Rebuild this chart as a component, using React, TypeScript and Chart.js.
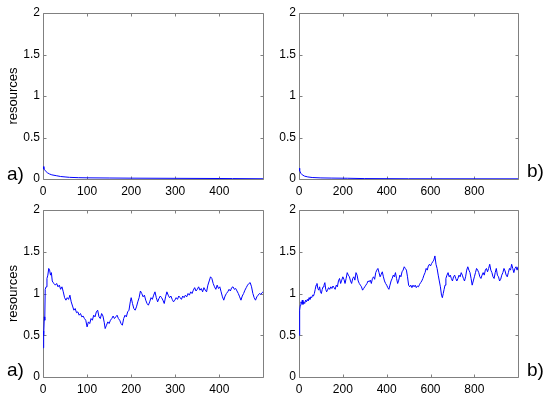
import { useEffect, useRef } from 'react';
import { Chart, registerables } from 'chart.js';

Chart.register(...registerables);

// ---------- data ----------
const yTicks = [0, 0.5, 1, 1.5, 2];
const yTickLabels = ['0', '0.5', '1', '1.5', '2'];
const xTicksA = [0, 100, 200, 300, 400];
const xTicksB = [0, 200, 400, 600, 800];
const xMaxA = 499;
const xMaxB = 999;

// top-left (a): decay
const tlX = [0, 2, 5, 10, 15, 20, 30, 40, 50, 60, 80, 100, 150, 200, 300, 400, 430, 499];
const tlY = [0.15, 0.12, 0.1, 0.075, 0.06, 0.05, 0.04, 0.03, 0.025, 0.02, 0.016, 0.014, 0.012, 0.01, 0.008, 0.006, 0.005, 0.003];

// top-right (b): decay
const trX = [0, 3, 8, 15, 25, 40, 60, 100, 150, 220, 300, 500, 999];
const trY = [0.13, 0.1, 0.07, 0.05, 0.035, 0.025, 0.018, 0.013, 0.011, 0.009, 0.005, 0.003, 0.002];

// bottom-left (a)
const blX = [0, 1, 2, 3, 4, 5, 7, 9, 11, 13, 15, 17, 19, 21, 23, 25, 28, 31, 34, 37, 40, 43, 46, 49, 52, 55, 58, 61, 64, 67, 70, 73, 76, 79, 82, 85, 88, 91, 94, 97, 100, 103, 106, 109, 112, 115, 118, 121, 124, 127, 130, 133, 136, 139, 141, 144, 147, 150, 153, 156, 159, 162, 165, 168, 171, 174, 177, 180, 183, 186, 189, 192, 195, 198, 200, 203, 206, 209, 212, 215, 218, 221, 224, 227, 230, 233, 236, 239, 242, 245, 248, 251, 254, 257, 260, 263, 266, 269, 272, 275, 278, 281, 284, 287, 290, 293, 296, 299, 302, 305, 308, 311, 314, 317, 320, 323, 326, 329, 332, 335, 338, 341, 344, 347, 350, 353, 356, 359, 362, 365, 368, 371, 374, 377, 380, 383, 386, 389, 392, 395, 398, 401, 404, 407, 410, 413, 416, 419, 422, 425, 428, 431, 434, 437, 440, 443, 446, 449, 452, 455, 458, 461, 464, 467, 470, 473, 476, 479, 482, 485, 488, 491, 494, 497, 499];
const blY = [0.35, 0.55, 0.5, 0.72, 0.68, 1.05, 1.08, 1.18, 1.22, 1.3, 1.28, 1.22, 1.25, 1.15, 1.13, 1.12, 1.1, 1.12, 1.08, 1.1, 1.05, 1.08, 1.02, 0.95, 0.92, 0.95, 0.93, 0.98, 0.9, 0.85, 0.8, 0.82, 0.77, 0.78, 0.74, 0.76, 0.72, 0.73, 0.7, 0.68, 0.6, 0.66, 0.64, 0.7, 0.68, 0.74, 0.72, 0.78, 0.8, 0.72, 0.7, 0.76, 0.73, 0.65, 0.58, 0.62, 0.66, 0.64, 0.68, 0.7, 0.73, 0.7, 0.72, 0.74, 0.7, 0.68, 0.64, 0.62, 0.7, 0.74, 0.72, 0.78, 0.8, 0.9, 0.95, 0.88, 0.82, 0.8, 0.84, 0.9, 0.95, 1.03, 1.0, 0.96, 0.98, 0.92, 0.88, 0.86, 0.9, 0.95, 0.93, 0.98, 1.02, 0.95, 0.9, 0.94, 0.97, 0.95, 0.92, 0.88, 0.96, 1.02, 0.98, 0.95, 0.97, 0.93, 0.9, 0.92, 0.95, 0.93, 0.97, 0.95, 0.93, 0.97, 0.95, 0.98, 0.96, 1.0, 0.98, 1.02, 1.0, 1.04, 1.07, 1.03, 1.05, 1.08, 1.04, 1.06, 1.02, 1.07, 1.04, 1.02, 1.1, 1.15, 1.2, 1.18, 1.12, 1.08, 1.05, 1.1, 1.06, 1.08, 1.02, 0.96, 0.92, 0.97, 1.0, 1.02, 1.05, 1.03, 1.07, 1.08, 1.05, 1.06, 1.03, 1.0, 0.96, 0.92, 0.97, 1.0, 1.04, 1.07, 1.1, 1.12, 1.13, 1.08, 1.0, 0.95, 0.92, 0.96, 0.98, 1.0, 0.99, 1.01, 1.02];

// bottom-right (b)
const brX = [0, 2, 4, 6, 9, 12, 15, 18, 22, 26, 30, 34, 38, 42, 46, 50, 54, 58, 62, 66, 70, 74, 78, 82, 86, 90, 94, 98, 102, 106, 110, 114, 118, 122, 126, 130, 135, 140, 145, 150, 155, 160, 165, 170, 175, 180, 185, 190, 195, 200, 205, 210, 215, 220, 225, 230, 235, 240, 245, 250, 255, 260, 265, 270, 275, 280, 285, 290, 295, 300, 305, 310, 315, 320, 325, 330, 335, 340, 345, 350, 355, 360, 365, 370, 375, 380, 385, 390, 395, 400, 405, 410, 415, 420, 425, 430, 435, 440, 445, 450, 455, 460, 465, 470, 475, 480, 485, 490, 495, 500, 505, 510, 515, 520, 525, 530, 535, 540, 545, 550, 555, 560, 565, 570, 575, 580, 585, 590, 595, 600, 605, 610, 615, 620, 625, 630, 635, 640, 645, 650, 654, 658, 662, 666, 670, 675, 680, 685, 690, 695, 700, 705, 710, 715, 720, 725, 730, 735, 740, 745, 750, 755, 760, 765, 770, 775, 780, 785, 790, 795, 800, 805, 810, 815, 820, 825, 830, 835, 840, 845, 850, 855, 860, 865, 870, 875, 880, 885, 890, 895, 900, 905, 910, 915, 920, 925, 930, 935, 940, 945, 950, 955, 960, 965, 970, 975, 980, 985, 990, 995, 999];
const brY = [0.5, 0.72, 0.8, 0.86, 0.9, 0.88, 0.92, 0.87, 0.9, 0.88, 0.92, 0.9, 0.93, 0.91, 0.95, 0.93, 0.96, 0.95, 0.98, 0.97, 1.0, 1.05, 1.1, 1.12, 1.06, 1.04, 1.08, 1.02, 1.0, 1.05, 1.08, 1.1, 1.13, 1.05, 1.02, 1.04, 1.07, 1.05, 1.08, 1.06, 1.09, 1.07, 1.05, 1.1, 1.08, 1.15, 1.18, 1.12, 1.16, 1.2, 1.17, 1.12, 1.18, 1.25, 1.22, 1.2, 1.15, 1.12, 1.18, 1.2, 1.16, 1.25, 1.22, 1.15, 1.12, 1.1, 1.08, 1.04, 1.06, 1.08, 1.1, 1.12, 1.15, 1.14, 1.16, 1.12, 1.18, 1.2, 1.17, 1.25, 1.28, 1.3, 1.25, 1.2, 1.23, 1.26, 1.2, 1.15, 1.12, 1.1, 1.07, 1.05, 1.1, 1.15, 1.18, 1.22, 1.2, 1.25, 1.18, 1.12, 1.16, 1.22, 1.2, 1.26, 1.28, 1.32, 1.3, 1.28, 1.2, 1.1, 1.08, 1.1, 1.07, 1.1, 1.08, 1.1, 1.07, 1.09, 1.08, 1.11, 1.13, 1.15, 1.18, 1.22, 1.25, 1.3, 1.28, 1.33, 1.35, 1.33, 1.36, 1.38, 1.4, 1.45, 1.35, 1.3, 1.22, 1.15, 1.08, 0.98, 0.95, 1.0, 1.05, 1.1, 1.18, 1.22, 1.25, 1.2, 1.22, 1.18, 1.15, 1.2, 1.22, 1.18, 1.15, 1.18, 1.22, 1.2, 1.25, 1.22, 1.18, 1.15, 1.2, 1.28, 1.32, 1.28, 1.25, 1.18, 1.1, 1.15, 1.2, 1.25, 1.3, 1.28, 1.25, 1.2, 1.18, 1.22, 1.25, 1.22, 1.28, 1.3, 1.26, 1.3, 1.35, 1.28, 1.25, 1.2, 1.18, 1.25, 1.3, 1.22, 1.2, 1.15, 1.17, 1.22, 1.25, 1.3, 1.27, 1.22, 1.2, 1.25, 1.3, 1.28, 1.35, 1.3, 1.25, 1.3, 1.32, 1.28, 1.32];

const yTitle = 'resources';
const tagA = 'a)';
const tagB = 'b)';

// ---------- layout / style ----------
const W = 550;
const H = 398;
const FONT = '"Liberation Sans", Arial, sans-serif';
const AXIS_COLOR = '#808080';
const LINE_COLOR = '#0000ff';
const Y_AXIS_W = 43;

type Panel = {
  xs: number[];
  ys: number[];
  xTicks: number[];
  xMax: number;
  area: { l: number; t: number; r: number; b: number };
  title: string | null;
  tag: string;
  tagX: number;
  tagY: number;
};

const panels: Panel[] = [
  { xs: tlX, ys: tlY, xTicks: xTicksA, xMax: xMaxA, area: { l: 43, t: 13, r: 263, b: 179 }, title: yTitle, tag: tagA, tagX: 7, tagY: 180 },
  { xs: trX, ys: trY, xTicks: xTicksB, xMax: xMaxB, area: { l: 299, t: 13, r: 518, b: 179 }, title: null, tag: tagB, tagX: 527, tagY: 177 },
  { xs: blX, ys: blY, xTicks: xTicksA, xMax: xMaxA, area: { l: 43, t: 210, r: 263, b: 377 }, title: yTitle, tag: tagA, tagX: 7, tagY: 376 },
  { xs: brX, ys: brY, xTicks: xTicksB, xMax: xMaxB, area: { l: 299, t: 210, r: 518, b: 377 }, title: null, tag: tagB, tagX: 527, tagY: 376 },
];

function makeBoxPlugin(p: Panel) {
  return {
    id: 'matlabBox',
    beforeDatasetsDraw(chart: any) {
      const { ctx, chartArea } = chart;
      const { left, right, top, bottom } = chartArea;
      const xs = chart.scales.x;
      const ys = chart.scales.y;
      const L = Math.round(left) + 0.5;
      const R = Math.round(right) + 0.5;
      const T = Math.round(top) + 0.5;
      const B = Math.round(bottom) + 0.5;
      ctx.save();
      ctx.strokeStyle = AXIS_COLOR;
      ctx.lineWidth = 1;
      ctx.beginPath();
      ctx.moveTo(L, T);
      ctx.lineTo(R, T);
      ctx.lineTo(R, B);
      ctx.lineTo(L, B);
      ctx.closePath();
      const tl = 3;
      p.xTicks.forEach((v) => {
        const px = Math.round(xs.getPixelForValue(v)) + 0.5;
        ctx.moveTo(px, B);
        ctx.lineTo(px, B - tl);
        ctx.moveTo(px, T);
        ctx.lineTo(px, T + tl);
      });
      yTicks.forEach((v) => {
        const py = Math.round(ys.getPixelForValue(v)) + 0.5;
        ctx.moveTo(L, py);
        ctx.lineTo(L + tl, py);
        ctx.moveTo(R, py);
        ctx.lineTo(R - tl, py);
      });
      ctx.stroke();
      ctx.restore();
    },
    afterDraw(chart: any) {
      const { ctx, chartArea } = chart;
      ctx.save();
      ctx.fillStyle = '#000';
      ctx.font = `19px ${FONT}`;
      ctx.textAlign = 'left';
      ctx.textBaseline = 'alphabetic';
      ctx.fillText(p.tag, p.tagX, p.tagY);
      if (p.title) {
        ctx.font = `13px ${FONT}`;
        ctx.translate(16.5, (chartArea.top + chartArea.bottom) / 2);
        ctx.rotate(-Math.PI / 2);
        ctx.textAlign = 'center';
        ctx.textBaseline = 'alphabetic';
        ctx.fillText(p.title, 0, 0);
      }
      ctx.restore();
    },
  };
}

function PanelChart({ p }: { p: Panel }) {
  const ref = useRef<HTMLCanvasElement | null>(null);
  useEffect(() => {
    if (!ref.current) return;
    const data = p.xs.map((x, i) => ({ x, y: p.ys[i] }));
    const chart = new Chart(ref.current, {
      type: 'line',
      data: {
        datasets: [
          {
            data,
            borderColor: LINE_COLOR,
            backgroundColor: LINE_COLOR,
            borderWidth: 1,
            pointRadius: 0,
            tension: 0,
            fill: false,
          },
        ],
      },
      options: {
        animation: false,
        responsive: false,
        maintainAspectRatio: false,
        events: [],
        layout: {
          padding: { left: p.area.l - Y_AXIS_W, top: p.area.t, right: W - p.area.r, bottom: 0 },
        },
        plugins: { legend: { display: false }, tooltip: { enabled: false }, title: { display: false } },
        scales: {
          x: {
            type: 'linear',
            min: 0,
            max: p.xMax,
            grid: { display: false, drawTicks: false },
            border: { display: false },
            ticks: {
              color: '#000',
              font: { family: FONT, size: 12 },
              padding: 5,
              maxRotation: 0,
              autoSkip: false,
              callback: (v: any) => String(v),
            },
            afterBuildTicks: (s: any) => {
              s.ticks = p.xTicks.map((v) => ({ value: v }));
            },
            afterFit: (s: any) => {
              s.height = H - p.area.b;
            },
          },
          y: {
            type: 'linear',
            min: 0,
            max: 2,
            grid: { display: false, drawTicks: false },
            border: { display: false },
            ticks: {
              color: '#000',
              font: { family: FONT, size: 12 },
              padding: 3,
              autoSkip: false,
              callback: (v: any) => {
                const i = yTicks.indexOf(Number(v));
                return i >= 0 ? yTickLabels[i] : '';
              },
            },
            afterBuildTicks: (s: any) => {
              s.ticks = yTicks.map((v) => ({ value: v }));
            },
            afterFit: (s: any) => {
              s.width = Y_AXIS_W;
            },
          },
        },
      },
      plugins: [makeBoxPlugin(p)],
    } as any);
    return () => chart.destroy();
  }, [p]);
  return (
    <canvas
      ref={ref}
      width={W}
      height={H}
      style={{ position: 'absolute', left: 0, top: 0, width: W, height: H }}
    />
  );
}

export default function App() {
  return (
    <div style={{ position: 'absolute', left: 0, top: 0, width: W, height: H, background: '#fff', overflow: 'hidden' }}>
      {panels.map((p, i) => (
        <PanelChart key={i} p={p} />
      ))}
    </div>
  );
}
